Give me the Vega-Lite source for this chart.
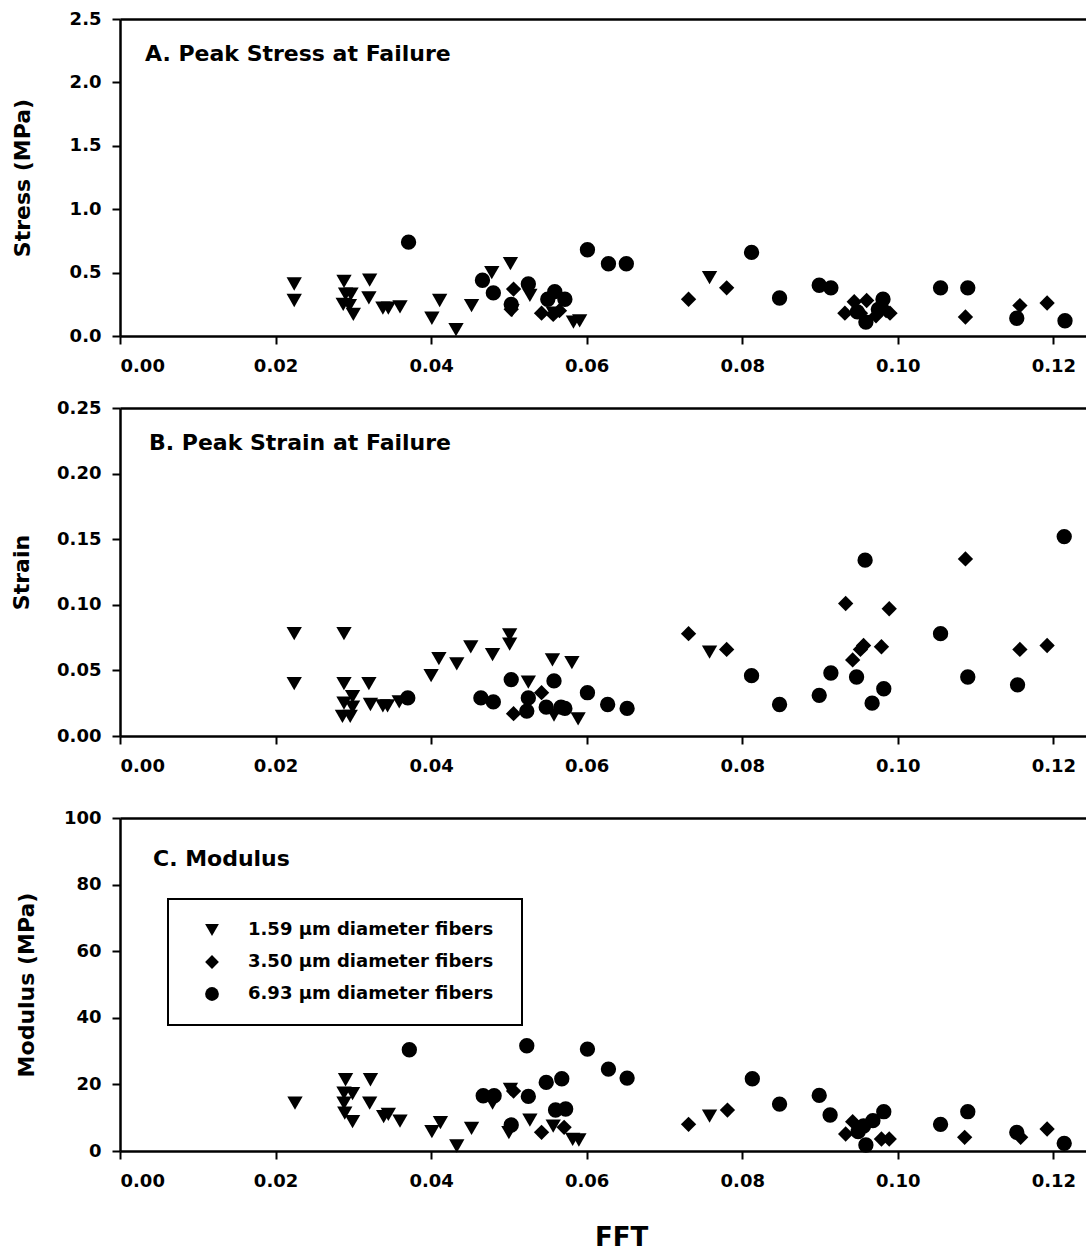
{
  "$schema": "https://vega.github.io/schema/vega-lite/v6.json",
  "padding": {"left": 10, "top": 10, "right": 0, "bottom": 0},
  "background": "white",
  "config": {
    "view": {"stroke": null},
    "font": "DejaVu Sans",
    "axis": {
      "grid": false,
      "domainColor": "black", "domainWidth": 2.5,
      "tickColor": "black", "tickWidth": 2, "tickSize": 8,
      "labelFont": "DejaVu Sans", "labelFontWeight": "bold", "labelFontSize": 18, "labelColor": "black",
      "titleFont": "DejaVu Sans", "titleFontWeight": "bold", "titleFontSize": 22, "titleColor": "black"
    },
    "axisX": {"labelPadding": 13},
    "axisY": {"labelPadding": 11},
    "title": {"font": "DejaVu Sans", "fontWeight": "bold", "fontSize": 22, "color": "black", "anchor": "start", "frame": "group", "baseline": "middle", "orient": "top"},
    "legend": {
      "labelFont": "DejaVu Sans", "labelFontWeight": "bold", "labelFontSize": 18, "labelColor": "black", "strokeWidth": 2, "labelLimit": 400
    }
  },
  "datasets": {
    "A": [
      {"FFT":0.0224,"value":0.41,"fiber":"1.59"},{"FFT":0.0224,"value":0.28,"fiber":"1.59"},{"FFT":0.0288,"value":0.43,"fiber":"1.59"},{"FFT":0.0290,"value":0.33,"fiber":"1.59"},{"FFT":0.0297,"value":0.33,"fiber":"1.59"},{"FFT":0.0287,"value":0.25,"fiber":"1.59"},{"FFT":0.0295,"value":0.24,"fiber":"1.59"},{"FFT":0.0300,"value":0.17,"fiber":"1.59"},{"FFT":0.0321,"value":0.44,"fiber":"1.59"},{"FFT":0.0320,"value":0.30,"fiber":"1.59"},{"FFT":0.0338,"value":0.22,"fiber":"1.59"},{"FFT":0.0345,"value":0.22,"fiber":"1.59"},{"FFT":0.0360,"value":0.23,"fiber":"1.59"},{"FFT":0.0401,"value":0.14,"fiber":"1.59"},{"FFT":0.0411,"value":0.28,"fiber":"1.59"},{"FFT":0.0432,"value":0.05,"fiber":"1.59"},{"FFT":0.0452,"value":0.24,"fiber":"1.59"},{"FFT":0.0478,"value":0.50,"fiber":"1.59"},{"FFT":0.0502,"value":0.57,"fiber":"1.59"},{"FFT":0.0527,"value":0.32,"fiber":"1.59"},{"FFT":0.0504,"value":0.20,"fiber":"1.59"},{"FFT":0.0557,"value":0.18,"fiber":"1.59"},{"FFT":0.0583,"value":0.11,"fiber":"1.59"},{"FFT":0.0591,"value":0.12,"fiber":"1.59"},{"FFT":0.0758,"value":0.46,"fiber":"1.59"},
      {"FFT":0.0506,"value":0.37,"fiber":"3.50"},{"FFT":0.0503,"value":0.21,"fiber":"3.50"},{"FFT":0.0542,"value":0.18,"fiber":"3.50"},{"FFT":0.0557,"value":0.17,"fiber":"3.50"},{"FFT":0.0565,"value":0.20,"fiber":"3.50"},{"FFT":0.0731,"value":0.29,"fiber":"3.50"},{"FFT":0.0780,"value":0.38,"fiber":"3.50"},{"FFT":0.0932,"value":0.18,"fiber":"3.50"},{"FFT":0.0944,"value":0.27,"fiber":"3.50"},{"FFT":0.0960,"value":0.28,"fiber":"3.50"},{"FFT":0.0952,"value":0.18,"fiber":"3.50"},{"FFT":0.0972,"value":0.16,"fiber":"3.50"},{"FFT":0.0990,"value":0.18,"fiber":"3.50"},{"FFT":0.0985,"value":0.20,"fiber":"3.50"},{"FFT":0.1087,"value":0.15,"fiber":"3.50"},{"FFT":0.1157,"value":0.24,"fiber":"3.50"},{"FFT":0.1192,"value":0.26,"fiber":"3.50"},
      {"FFT":0.0371,"value":0.74,"fiber":"6.93"},{"FFT":0.0466,"value":0.44,"fiber":"6.93"},{"FFT":0.0480,"value":0.34,"fiber":"6.93"},{"FFT":0.0503,"value":0.25,"fiber":"6.93"},{"FFT":0.0525,"value":0.41,"fiber":"6.93"},{"FFT":0.0550,"value":0.29,"fiber":"6.93"},{"FFT":0.0559,"value":0.35,"fiber":"6.93"},{"FFT":0.0572,"value":0.29,"fiber":"6.93"},{"FFT":0.0601,"value":0.68,"fiber":"6.93"},{"FFT":0.0628,"value":0.57,"fiber":"6.93"},{"FFT":0.0651,"value":0.57,"fiber":"6.93"},{"FFT":0.0812,"value":0.66,"fiber":"6.93"},{"FFT":0.0848,"value":0.30,"fiber":"6.93"},{"FFT":0.0899,"value":0.40,"fiber":"6.93"},{"FFT":0.0914,"value":0.38,"fiber":"6.93"},{"FFT":0.0948,"value":0.19,"fiber":"6.93"},{"FFT":0.0959,"value":0.11,"fiber":"6.93"},{"FFT":0.0975,"value":0.21,"fiber":"6.93"},{"FFT":0.0981,"value":0.29,"fiber":"6.93"},{"FFT":0.1055,"value":0.38,"fiber":"6.93"},{"FFT":0.1090,"value":0.38,"fiber":"6.93"},{"FFT":0.1153,"value":0.14,"fiber":"6.93"},{"FFT":0.1215,"value":0.12,"fiber":"6.93"}
    ],
    "B": [
      {"FFT":0.0224,"value":0.078,"fiber":"1.59"},{"FFT":0.0224,"value":0.040,"fiber":"1.59"},{"FFT":0.0288,"value":0.078,"fiber":"1.59"},{"FFT":0.0288,"value":0.040,"fiber":"1.59"},{"FFT":0.0299,"value":0.030,"fiber":"1.59"},{"FFT":0.0288,"value":0.025,"fiber":"1.59"},{"FFT":0.0299,"value":0.022,"fiber":"1.59"},{"FFT":0.0286,"value":0.015,"fiber":"1.59"},{"FFT":0.0296,"value":0.015,"fiber":"1.59"},{"FFT":0.0320,"value":0.040,"fiber":"1.59"},{"FFT":0.0322,"value":0.024,"fiber":"1.59"},{"FFT":0.0338,"value":0.023,"fiber":"1.59"},{"FFT":0.0344,"value":0.023,"fiber":"1.59"},{"FFT":0.0359,"value":0.026,"fiber":"1.59"},{"FFT":0.0400,"value":0.046,"fiber":"1.59"},{"FFT":0.0410,"value":0.059,"fiber":"1.59"},{"FFT":0.0433,"value":0.055,"fiber":"1.59"},{"FFT":0.0451,"value":0.068,"fiber":"1.59"},{"FFT":0.0479,"value":0.062,"fiber":"1.59"},{"FFT":0.0501,"value":0.077,"fiber":"1.59"},{"FFT":0.0501,"value":0.070,"fiber":"1.59"},{"FFT":0.0525,"value":0.041,"fiber":"1.59"},{"FFT":0.0556,"value":0.058,"fiber":"1.59"},{"FFT":0.0581,"value":0.056,"fiber":"1.59"},{"FFT":0.0558,"value":0.016,"fiber":"1.59"},{"FFT":0.0589,"value":0.013,"fiber":"1.59"},{"FFT":0.0758,"value":0.064,"fiber":"1.59"},
      {"FFT":0.0542,"value":0.033,"fiber":"3.50"},{"FFT":0.0506,"value":0.017,"fiber":"3.50"},{"FFT":0.0731,"value":0.078,"fiber":"3.50"},{"FFT":0.0780,"value":0.066,"fiber":"3.50"},{"FFT":0.0933,"value":0.101,"fiber":"3.50"},{"FFT":0.0942,"value":0.058,"fiber":"3.50"},{"FFT":0.0956,"value":0.069,"fiber":"3.50"},{"FFT":0.0952,"value":0.066,"fiber":"3.50"},{"FFT":0.0979,"value":0.068,"fiber":"3.50"},{"FFT":0.0989,"value":0.097,"fiber":"3.50"},{"FFT":0.1087,"value":0.135,"fiber":"3.50"},{"FFT":0.1157,"value":0.066,"fiber":"3.50"},{"FFT":0.1192,"value":0.069,"fiber":"3.50"},
      {"FFT":0.0370,"value":0.029,"fiber":"6.93"},{"FFT":0.0464,"value":0.029,"fiber":"6.93"},{"FFT":0.0480,"value":0.026,"fiber":"6.93"},{"FFT":0.0503,"value":0.043,"fiber":"6.93"},{"FFT":0.0525,"value":0.029,"fiber":"6.93"},{"FFT":0.0523,"value":0.019,"fiber":"6.93"},{"FFT":0.0558,"value":0.042,"fiber":"6.93"},{"FFT":0.0548,"value":0.022,"fiber":"6.93"},{"FFT":0.0567,"value":0.022,"fiber":"6.93"},{"FFT":0.0572,"value":0.021,"fiber":"6.93"},{"FFT":0.0601,"value":0.033,"fiber":"6.93"},{"FFT":0.0627,"value":0.024,"fiber":"6.93"},{"FFT":0.0652,"value":0.021,"fiber":"6.93"},{"FFT":0.0812,"value":0.046,"fiber":"6.93"},{"FFT":0.0848,"value":0.024,"fiber":"6.93"},{"FFT":0.0899,"value":0.031,"fiber":"6.93"},{"FFT":0.0914,"value":0.048,"fiber":"6.93"},{"FFT":0.0947,"value":0.045,"fiber":"6.93"},{"FFT":0.0958,"value":0.134,"fiber":"6.93"},{"FFT":0.0967,"value":0.025,"fiber":"6.93"},{"FFT":0.0982,"value":0.036,"fiber":"6.93"},{"FFT":0.1055,"value":0.078,"fiber":"6.93"},{"FFT":0.1090,"value":0.045,"fiber":"6.93"},{"FFT":0.1154,"value":0.039,"fiber":"6.93"},{"FFT":0.1214,"value":0.152,"fiber":"6.93"}
    ],
    "C": [
      {"FFT":0.0225,"value":14.4,"fiber":"1.59"},{"FFT":0.0290,"value":21.4,"fiber":"1.59"},{"FFT":0.0288,"value":17.4,"fiber":"1.59"},{"FFT":0.0299,"value":17.2,"fiber":"1.59"},{"FFT":0.0288,"value":14.4,"fiber":"1.59"},{"FFT":0.0289,"value":11.4,"fiber":"1.59"},{"FFT":0.0299,"value":8.8,"fiber":"1.59"},{"FFT":0.0322,"value":21.4,"fiber":"1.59"},{"FFT":0.0321,"value":14.4,"fiber":"1.59"},{"FFT":0.0339,"value":10.3,"fiber":"1.59"},{"FFT":0.0345,"value":11.0,"fiber":"1.59"},{"FFT":0.0360,"value":9.0,"fiber":"1.59"},{"FFT":0.0401,"value":5.8,"fiber":"1.59"},{"FFT":0.0412,"value":8.5,"fiber":"1.59"},{"FFT":0.0433,"value":1.5,"fiber":"1.59"},{"FFT":0.0452,"value":6.8,"fiber":"1.59"},{"FFT":0.0479,"value":14.4,"fiber":"1.59"},{"FFT":0.0502,"value":18.5,"fiber":"1.59"},{"FFT":0.0500,"value":5.5,"fiber":"1.59"},{"FFT":0.0527,"value":9.3,"fiber":"1.59"},{"FFT":0.0557,"value":7.5,"fiber":"1.59"},{"FFT":0.0582,"value":3.5,"fiber":"1.59"},{"FFT":0.0590,"value":3.3,"fiber":"1.59"},{"FFT":0.0758,"value":10.5,"fiber":"1.59"},
      {"FFT":0.0506,"value":18.0,"fiber":"3.50"},{"FFT":0.0542,"value":5.6,"fiber":"3.50"},{"FFT":0.0571,"value":7.1,"fiber":"3.50"},{"FFT":0.0731,"value":8.0,"fiber":"3.50"},{"FFT":0.0781,"value":12.3,"fiber":"3.50"},{"FFT":0.0933,"value":5.1,"fiber":"3.50"},{"FFT":0.0942,"value":8.8,"fiber":"3.50"},{"FFT":0.0952,"value":7.0,"fiber":"3.50"},{"FFT":0.0979,"value":3.6,"fiber":"3.50"},{"FFT":0.0989,"value":3.6,"fiber":"3.50"},{"FFT":0.1086,"value":4.1,"fiber":"3.50"},{"FFT":0.1158,"value":4.1,"fiber":"3.50"},{"FFT":0.1192,"value":6.6,"fiber":"3.50"},
      {"FFT":0.0372,"value":30.4,"fiber":"6.93"},{"FFT":0.0467,"value":16.6,"fiber":"6.93"},{"FFT":0.0481,"value":16.6,"fiber":"6.93"},{"FFT":0.0503,"value":7.8,"fiber":"6.93"},{"FFT":0.0523,"value":31.6,"fiber":"6.93"},{"FFT":0.0525,"value":16.4,"fiber":"6.93"},{"FFT":0.0548,"value":20.6,"fiber":"6.93"},{"FFT":0.0568,"value":21.7,"fiber":"6.93"},{"FFT":0.0560,"value":12.3,"fiber":"6.93"},{"FFT":0.0573,"value":12.6,"fiber":"6.93"},{"FFT":0.0601,"value":30.6,"fiber":"6.93"},{"FFT":0.0628,"value":24.6,"fiber":"6.93"},{"FFT":0.0652,"value":21.9,"fiber":"6.93"},{"FFT":0.0813,"value":21.7,"fiber":"6.93"},{"FFT":0.0848,"value":14.1,"fiber":"6.93"},{"FFT":0.0899,"value":16.7,"fiber":"6.93"},{"FFT":0.0913,"value":10.8,"fiber":"6.93"},{"FFT":0.0949,"value":5.8,"fiber":"6.93"},{"FFT":0.0956,"value":7.5,"fiber":"6.93"},{"FFT":0.0968,"value":9.1,"fiber":"6.93"},{"FFT":0.0959,"value":1.8,"fiber":"6.93"},{"FFT":0.0982,"value":11.8,"fiber":"6.93"},{"FFT":0.1055,"value":8.0,"fiber":"6.93"},{"FFT":0.1090,"value":11.8,"fiber":"6.93"},{"FFT":0.1153,"value":5.6,"fiber":"6.93"},{"FFT":0.1214,"value":2.3,"fiber":"6.93"}
    ]
  },
  "columns": 1,
  "spacing": 24,
  "resolve": {"scale": {"shape": "independent"}, "legend": {"shape": "independent"}},
  "concat": [
    {
      "width": 966, "height": 317,
      "title": {"text": "A. Peak Stress at Failure", "offset": -56, "dx": 25},
      "data": {"name": "A"},
      "resolve": {"axis": {"x": "independent"}},
      "layer": [
        {
          "mark": {"type": "point", "filled": true, "opacity": 1, "color": "black", "size": 235},
          "encoding": {
            "x": {"field": "FFT", "type": "quantitative", "scale": {"domain": [0, 0.1242], "nice": false},
                  "axis": {"title": null, "values": [0, 0.02, 0.04, 0.06, 0.08, 0.1, 0.12], "format": ".2f"}},
            "y": {"field": "value", "type": "quantitative", "scale": {"domain": [0, 2.5], "nice": false},
                  "axis": {"title": "Stress (MPa)", "values": [0, 0.5, 1, 1.5, 2, 2.5], "format": ".1f", "titlePadding": 35}},
            "shape": {"field": "fiber", "type": "nominal", "scale": {"domain": ["1.59", "3.50", "6.93"], "range": ["triangle-down", "diamond", "circle"]}, "legend": null}
          }
        },
        {
          "mark": {"type": "point", "opacity": 0},
          "encoding": {
            "x": {"field": "FFT", "type": "quantitative", "axis": {"orient": "top", "title": null, "labels": false, "ticks": false}},
            "y": {"field": "value", "type": "quantitative"}
          }
        }
      ]
    },
    {
      "columns": 1,
      "spacing": 34,
      "resolve": {"scale": {"shape": "independent"}, "legend": {"shape": "independent"}},
      "concat": [
        {
          "width": 966, "height": 328,
          "title": {"text": "B. Peak Strain at Failure", "offset": -56, "dx": 29},
          "data": {"name": "B"},
          "resolve": {"axis": {"x": "independent"}},
          "layer": [
            {
              "mark": {"type": "point", "filled": true, "opacity": 1, "color": "black", "size": 235},
              "encoding": {
                "x": {"field": "FFT", "type": "quantitative", "scale": {"domain": [0, 0.1242], "nice": false},
                      "axis": {"title": null, "values": [0, 0.02, 0.04, 0.06, 0.08, 0.1, 0.12], "format": ".2f"}},
                "y": {"field": "value", "type": "quantitative", "scale": {"domain": [0, 0.25], "nice": false},
                      "axis": {"title": "Strain", "values": [0, 0.05, 0.1, 0.15, 0.2, 0.25], "format": ".2f", "titlePadding": 23.5}},
                "shape": {"field": "fiber", "type": "nominal", "scale": {"domain": ["1.59", "3.50", "6.93"], "range": ["triangle-down", "diamond", "circle"]}, "legend": null}
              }
            },
            {
              "mark": {"type": "point", "opacity": 0},
              "encoding": {
                "x": {"field": "FFT", "type": "quantitative", "axis": {"orient": "top", "title": null, "labels": false, "ticks": false}},
                "y": {"field": "value", "type": "quantitative"}
              }
            }
          ]
        },
        {
          "width": 966, "height": 333,
          "title": {"text": "C. Modulus", "offset": -62, "dx": 33},
          "data": {"name": "C"},
          "resolve": {"axis": {"x": "independent"}},
          "layer": [
            {
              "mark": {"type": "point", "filled": true, "opacity": 1, "color": "black", "size": 235},
              "encoding": {
                "x": {"field": "FFT", "type": "quantitative", "scale": {"domain": [0, 0.1242], "nice": false},
                      "axis": {"title": "FFT", "values": [0, 0.02, 0.04, 0.06, 0.08, 0.1, 0.12], "format": ".2f", "titleFontSize": 26, "titlePadding": 34, "titleX": 501}},
                "y": {"field": "value", "type": "quantitative", "scale": {"domain": [0, 100], "nice": false},
                      "axis": {"title": "Modulus (MPa)", "values": [0, 20, 40, 60, 80, 100], "format": "d", "titlePadding": 25}},
                "shape": {"field": "fiber", "type": "nominal", "scale": {"domain": ["1.59", "3.50", "6.93"], "range": ["triangle-down", "diamond", "circle"]},
                          "legend": {"title": null, "orient": "none", "legendX": 48, "legendY": 81, "strokeColor": "black", "fillColor": "white", "padding": 22, "symbolOffset": 13, "symbolSize": 190, "symbolFillColor": "black", "symbolStrokeColor": "black", "symbolStrokeWidth": 0, "labelOffset": 27, "rowPadding": 14, "labelExpr": "datum.label + '  μm diameter fibers'"}}
              }
            },
            {
              "mark": {"type": "point", "opacity": 0},
              "encoding": {
                "x": {"field": "FFT", "type": "quantitative", "axis": {"orient": "top", "title": null, "labels": false, "ticks": false}},
                "y": {"field": "value", "type": "quantitative"}
              }
            }
          ]
        }
      ]
    }
  ]
}
